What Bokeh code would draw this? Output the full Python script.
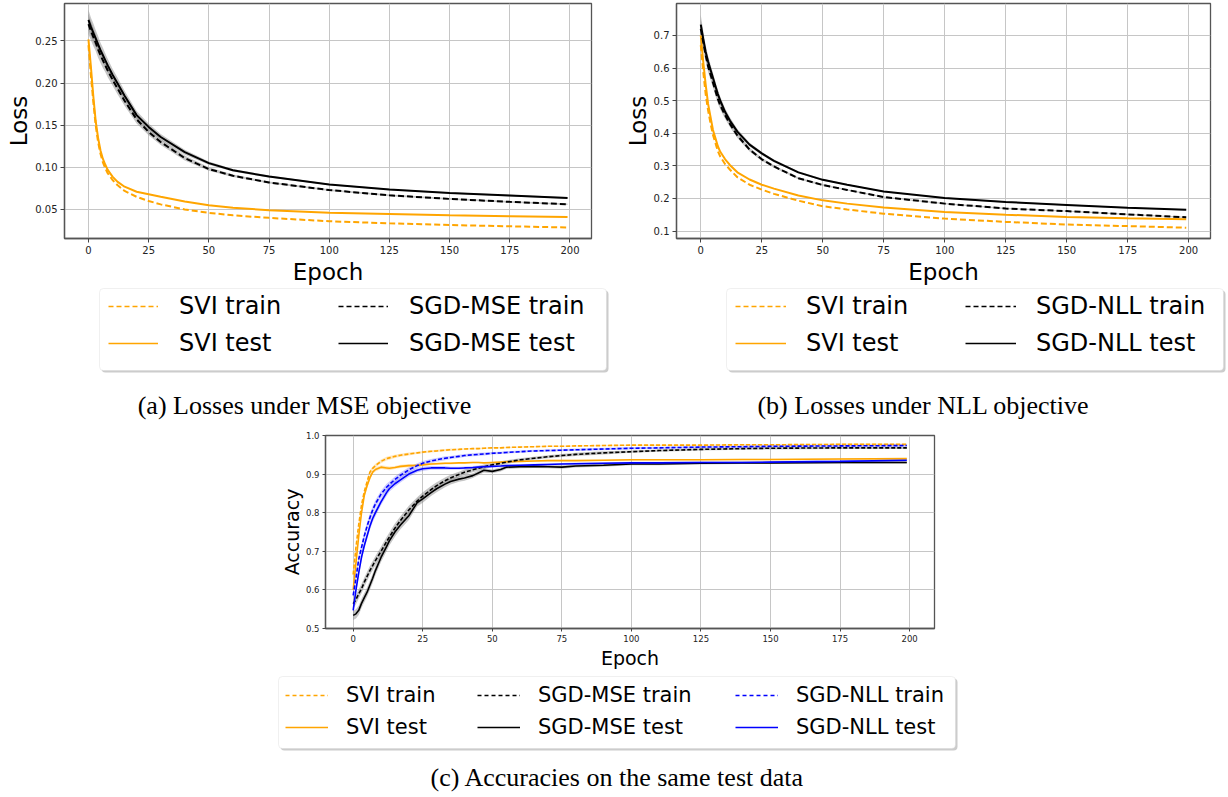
import numpy as np
from bokeh.plotting import figure
from bokeh.models import (Legend, LegendItem, FixedTicker, Range1d, Label,
                          NumeralTickFormatter, BoxAnnotation)
from bokeh.layouts import column, row
from bokeh.embed import file_html
from bokeh.resources import INLINE

# ---------------- data ----------------
X_TICKS = [0, 25, 50, 75, 100, 125, 150, 175, 200]
Y_TICKS_A = [0.05, 0.10, 0.15, 0.20, 0.25]
Y_TICKS_B = [0.1, 0.2, 0.3, 0.4, 0.5, 0.6, 0.7]
Y_TICKS_C = [0.5, 0.6, 0.7, 0.8, 0.9, 1.0]

EP_AB = [0, 1, 2, 3, 4, 5, 6, 7, 8, 10, 12, 15, 20, 25, 30, 40, 50, 60, 75, 100, 125, 150, 175, 199]

svi_train_a = [0.245, 0.210, 0.178, 0.150, 0.130, 0.116, 0.106, 0.099, 0.093, 0.085, 0.079, 0.072,
               0.065, 0.060, 0.056, 0.050, 0.046, 0.043, 0.040, 0.036, 0.0335, 0.0315, 0.030, 0.0286]
svi_test_a = [0.252, 0.220, 0.185, 0.155, 0.135, 0.120, 0.110, 0.103, 0.097, 0.089, 0.083, 0.077,
              0.071, 0.068, 0.065, 0.0595, 0.055, 0.052, 0.049, 0.046, 0.0445, 0.043, 0.042, 0.041]
mse_train_a = [0.270, 0.262, 0.255, 0.248, 0.240, 0.233, 0.227, 0.221, 0.215, 0.204, 0.194, 0.179,
               0.157, 0.142, 0.130, 0.111, 0.098, 0.090, 0.082, 0.073, 0.0668, 0.0625, 0.059, 0.0562]
mse_test_a = [0.275, 0.267, 0.260, 0.253, 0.246, 0.239, 0.233, 0.227, 0.221, 0.210, 0.200, 0.185,
              0.162, 0.148, 0.136, 0.118, 0.105, 0.0965, 0.089, 0.0796, 0.0737, 0.0695, 0.0665, 0.0637]
mse_spread_a = [0.012, 0.011, 0.011, 0.010, 0.010, 0.009, 0.009, 0.008, 0.008, 0.007, 0.007, 0.006,
                0.005, 0.004, 0.0035, 0.003, 0.002, 0.0015, 0.0012, 0.001, 0.001, 0.001, 0.001, 0.001]

svi_train_b = [0.670, 0.590, 0.520, 0.470, 0.430, 0.395, 0.370, 0.345, 0.328, 0.305, 0.288, 0.265,
               0.242, 0.227, 0.214, 0.193, 0.176, 0.166, 0.153, 0.138, 0.128, 0.120, 0.115, 0.110]
svi_test_b = [0.700, 0.620, 0.550, 0.490, 0.450, 0.410, 0.385, 0.360, 0.343, 0.320, 0.302, 0.280,
              0.258, 0.242, 0.230, 0.209, 0.194, 0.184, 0.172, 0.158, 0.150, 0.143, 0.139, 0.136]
nll_train_b = [0.720, 0.680, 0.640, 0.605, 0.580, 0.555, 0.530, 0.505, 0.485, 0.455, 0.428, 0.393,
               0.350, 0.320, 0.298, 0.262, 0.241, 0.226, 0.204, 0.184, 0.169, 0.161, 0.151, 0.142]
nll_test_b = [0.733, 0.690, 0.650, 0.620, 0.595, 0.570, 0.545, 0.520, 0.500, 0.465, 0.438, 0.405,
              0.365, 0.338, 0.315, 0.280, 0.257, 0.242, 0.221, 0.201, 0.189, 0.180, 0.171, 0.165]
nll_spread_b = [0.030, 0.025, 0.020, 0.018, 0.016, 0.015, 0.014, 0.013, 0.012, 0.011, 0.010, 0.008,
                0.006, 0.005, 0.004, 0.003, 0.003, 0.002, 0.002, 0.002, 0.002, 0.002, 0.002, 0.002]

EP_C = [0, 1, 2, 3, 4, 5, 6, 7, 8, 10, 12, 13, 15, 17, 20, 23, 25, 28, 30, 33, 35, 38, 40, 43, 45,
        47, 50, 53, 55, 60, 65, 70, 75, 80, 90, 100, 110, 125, 140, 150, 175, 199]
svi_train_c = [0.64, 0.71, 0.77, 0.82, 0.855, 0.88, 0.905, 0.915, 0.922, 0.933, 0.940, 0.942, 0.946,
               0.949, 0.952, 0.955, 0.957, 0.959, 0.960, 0.962, 0.963, 0.964, 0.965, 0.966, 0.966,
               0.967, 0.968, 0.968, 0.969, 0.970, 0.971, 0.972, 0.972, 0.973, 0.974, 0.975, 0.975,
               0.975, 0.976, 0.976, 0.977, 0.977]
svi_test_c = [0.60, 0.67, 0.74, 0.80, 0.845, 0.87, 0.89, 0.905, 0.912, 0.918, 0.916, 0.915, 0.917,
              0.920, 0.922, 0.923, 0.924, 0.926, 0.927, 0.928, 0.928, 0.929, 0.929, 0.930, 0.930,
              0.929, 0.930, 0.931, 0.932, 0.933, 0.934, 0.935, 0.935, 0.935, 0.936, 0.937, 0.937,
              0.937, 0.938, 0.938, 0.939, 0.940]
mse_train_c = [0.564, 0.575, 0.59, 0.603, 0.62, 0.635, 0.65, 0.663, 0.676, 0.70, 0.725, 0.737, 0.76,
               0.78, 0.807, 0.830, 0.843, 0.860, 0.870, 0.883, 0.890, 0.899, 0.905, 0.911, 0.915,
               0.919, 0.924, 0.928, 0.931, 0.937, 0.941, 0.945, 0.948, 0.951, 0.955, 0.958, 0.961,
               0.964, 0.966, 0.967, 0.968, 0.968]
mse_test_c = [0.534, 0.538, 0.547, 0.565, 0.58, 0.594, 0.612, 0.63, 0.65, 0.684, 0.712, 0.727, 0.750,
              0.768, 0.792, 0.826, 0.836, 0.852, 0.862, 0.874, 0.881, 0.887, 0.890, 0.896, 0.903,
              0.910, 0.907, 0.912, 0.918, 0.919, 0.920, 0.919, 0.918, 0.921, 0.923, 0.926, 0.926,
              0.928, 0.929, 0.929, 0.930, 0.930]
nll_train_c = [0.586, 0.63, 0.68, 0.71, 0.74, 0.765, 0.787, 0.807, 0.823, 0.848, 0.866, 0.873, 0.886,
               0.897, 0.911, 0.922, 0.928, 0.934, 0.937, 0.941, 0.943, 0.946, 0.948, 0.950, 0.951,
               0.952, 0.954, 0.955, 0.956, 0.958, 0.960, 0.961, 0.962, 0.963, 0.965, 0.967, 0.968,
               0.970, 0.971, 0.972, 0.973, 0.974]
nll_test_c = [0.547, 0.60, 0.645, 0.685, 0.715, 0.74, 0.765, 0.785, 0.80, 0.828, 0.852, 0.862, 0.875,
              0.885, 0.900, 0.910, 0.914, 0.916, 0.916, 0.916, 0.915, 0.915, 0.916, 0.917, 0.918,
              0.919, 0.920, 0.921, 0.922, 0.923, 0.924, 0.925, 0.926, 0.927, 0.928, 0.929, 0.929,
              0.930, 0.930, 0.931, 0.933, 0.936]
mse_spread_c = [0.012, 0.012, 0.012, 0.012, 0.012, 0.012, 0.012, 0.012, 0.012, 0.012, 0.012, 0.012,
                0.012, 0.011, 0.011, 0.010, 0.010, 0.009, 0.009, 0.008, 0.008, 0.007, 0.007, 0.006,
                0.006, 0.006, 0.005, 0.005, 0.005, 0.004, 0.004, 0.004, 0.004, 0.004, 0.004, 0.003,
                0.003, 0.003, 0.003, 0.003, 0.003, 0.003]
nll_spread_c = [0.010, 0.010, 0.010, 0.010, 0.010, 0.010, 0.010, 0.010, 0.010, 0.009, 0.009, 0.008,
                0.008, 0.007, 0.007, 0.006, 0.006, 0.005, 0.005, 0.005, 0.004, 0.004, 0.004, 0.004,
                0.004, 0.004, 0.003, 0.003, 0.003, 0.003, 0.003, 0.003, 0.003, 0.003, 0.003, 0.003,
                0.003, 0.003, 0.003, 0.003, 0.003, 0.003]
svi_spread_c = [0.008, 0.008, 0.008, 0.007, 0.006, 0.006, 0.005, 0.005, 0.005, 0.005, 0.005, 0.005,
                0.004, 0.004, 0.004, 0.003, 0.003, 0.003, 0.003, 0.003, 0.003, 0.002, 0.002, 0.002,
                0.002, 0.002, 0.002, 0.002, 0.002, 0.002, 0.002, 0.002, 0.002, 0.002, 0.002, 0.002,
                0.002, 0.002, 0.002, 0.002, 0.002, 0.002]

LEG_A = [["SVI train", "SVI test"], ["SGD-MSE train", "SGD-MSE test"]]
LEG_B = [["SVI train", "SVI test"], ["SGD-NLL train", "SGD-NLL test"]]
LEG_C = [["SVI train", "SVI test"], ["SGD-MSE train", "SGD-MSE test"],
         ["SGD-NLL train", "SGD-NLL test"]]
CAP_A = "(a) Losses under MSE objective"
CAP_B = "(b) Losses under NLL objective"
CAP_C = "(c) Accuracies on the same test data"

ORANGE = "#FFA500"
BLACK = "#000000"
BLUE = "#0000FF"
SANS = "DejaVu Sans"
SERIF = "Liberation Serif"
XLIM = (-9.95, 208.95)


def make_fig(width, height, ylim, yticks, yfmt, border, tick_size, label_size, ylabel, tick_out):
    left, right, top, bottom = border
    p = figure(width=width, height=height, x_range=Range1d(*XLIM), y_range=Range1d(*ylim),
               output_backend="svg", toolbar_location=None,
               min_border_left=left, min_border_right=right,
               min_border_top=top, min_border_bottom=bottom)
    p.background_fill_color = "white"
    p.border_fill_color = "white"
    p.outline_line_color = "#555555"
    p.outline_line_width = 1.3
    p.xaxis.ticker = FixedTicker(ticks=X_TICKS)
    p.yaxis.ticker = FixedTicker(ticks=yticks)
    p.yaxis.formatter = NumeralTickFormatter(format=yfmt)
    for ax in (p.xaxis, p.yaxis):
        ax.axis_line_color = "#555555"
        ax.axis_line_width = 1.3
        ax.major_tick_line_color = "#444444"
        ax.major_tick_out = tick_out
        ax.major_tick_in = 0
        ax.minor_tick_line_color = None
        ax.major_label_text_font = SANS
        ax.major_label_text_font_size = tick_size
        ax.major_label_text_color = "#222222"
        ax.axis_label_text_font = SANS
        ax.axis_label_text_font_style = "normal"
        ax.axis_label_text_font_size = label_size
        ax.axis_label_text_color = "#000000"
        ax.major_label_standoff = 3
        ax.axis_label_standoff = 0
    p.xaxis.axis_label_standoff = 2
    p.xaxis.axis_label = "Epoch"
    p.yaxis.axis_label = ylabel
    p.xgrid.grid_line_color = "#c6c6c6"
    p.ygrid.grid_line_color = "#c6c6c6"
    return p


def band(p, x, mean, spread, color, alpha):
    m = np.array(mean)
    s = np.array(spread)
    p.varea(x=x, y1=m - s, y2=m + s, fill_color=color, fill_alpha=alpha)


def blank(width, height):
    q = figure(width=width, height=height, x_range=Range1d(0, width), y_range=Range1d(0, height),
               output_backend="svg", toolbar_location=None,
               min_border_left=0, min_border_right=0, min_border_top=0, min_border_bottom=0,
               x_axis_type=None, y_axis_type=None)
    q.outline_line_color = None
    q.background_fill_color = "white"
    q.border_fill_color = "white"
    q.xgrid.visible = False
    q.ygrid.visible = False
    return q


def legend_box(q, left, right, bottom, top):
    shadow = BoxAnnotation(left=left + 2, right=right + 2, bottom=bottom - 2, top=top - 2,
                           fill_color="#9a9a9a", fill_alpha=0.5, line_color=None)
    box = BoxAnnotation(left=left, right=right, bottom=bottom, top=top,
                        fill_color="white", fill_alpha=1.0, line_color="#cccccc", line_width=1)
    if "border_radius" in BoxAnnotation.properties():
        shadow.border_radius = 4
        box.border_radius = 4
    q.add_layout(shadow)
    q.add_layout(box)


def column_legend(q, labels, series, styles, x, y, font, glyph_w, standoff, item_h, spacing):
    # legend proxies: one-point lines (draw nothing) that carry each series' style
    items = []
    for lab, (xs, ys), st in zip(labels, series, styles):
        r = q.line(x=xs[:1], y=ys[:1], **st)
        items.append(LegendItem(label=lab, renderers=[r]))
    leg = Legend(items=items, location=(x, y), orientation="vertical",
                 label_text_font=SANS, label_text_font_size=font, label_text_color="#000000",
                 glyph_width=glyph_w, glyph_height=item_h, label_height=item_h,
                 label_standoff=standoff, spacing=spacing, padding=0, margin=0,
                 border_line_color=None, background_fill_alpha=0.0)
    q.add_layout(leg)


def caption(q, text, x, y):
    q.add_layout(Label(x=x, y=y, text=text, text_align="center", text_baseline="middle",
                       text_font=SERIF, text_font_size="26px", text_color="#000000"))


def sty(color, dashed, width):
    d = dict(line_color=color, line_width=width)
    if dashed:
        d["line_dash"] = dashed
    return d


# ---------------- panel (a) ----------------
pa = make_fig(614, 287, (0.0155, 0.2945), Y_TICKS_A, "0.00", (64, 23, 3, 48),
              "10px", "23px", "Loss", 4)
band(pa, EP_AB, mse_train_a, mse_spread_a, "#808080", 0.45)
band(pa, EP_AB, mse_test_a, mse_spread_a, "#808080", 0.45)
pa.line(EP_AB, svi_train_a, **sty(ORANGE, "6 3", 2))
pa.line(EP_AB, svi_test_a, **sty(ORANGE, None, 2))
pa.line(EP_AB, mse_train_a, **sty(BLACK, "6 3", 2))
pa.line(EP_AB, mse_test_a, **sty(BLACK, None, 2))

la = blank(614, 140)
legend_box(la, 99, 606, 57, 139)
column_legend(la, LEG_A[0], [(EP_AB, svi_train_a), (EP_AB, svi_test_a)],
              [sty(ORANGE, "5 3", 1.5), sty(ORANGE, None, 1.5)],
              108, 70, "24px", 50, 21, 28, 9)
column_legend(la, LEG_A[1], [(EP_AB, mse_train_a), (EP_AB, mse_test_a)],
              [sty(BLACK, "5 3", 1.5), sty(BLACK, None, 1.5)],
              338, 70, "24px", 50, 21, 28, 9)
caption(la, CAP_A, 304, 22)

# ---------------- panel (b) ----------------
pb = make_fig(614, 287, (0.077, 0.798), Y_TICKS_B, "0.0", (62, 18, 3, 48),
              "10px", "23px", "Loss", 4)
band(pb, EP_AB, nll_train_b, nll_spread_b, "#808080", 0.45)
band(pb, EP_AB, nll_test_b, nll_spread_b, "#808080", 0.45)
pb.line(EP_AB, svi_train_b, **sty(ORANGE, "6 3", 2))
pb.line(EP_AB, svi_test_b, **sty(ORANGE, None, 2))
pb.line(EP_AB, nll_train_b, **sty(BLACK, "6 3", 2))
pb.line(EP_AB, nll_test_b, **sty(BLACK, None, 2))

lb = blank(614, 140)
legend_box(lb, 112, 609, 57, 139)
column_legend(lb, LEG_B[0], [(EP_AB, svi_train_b), (EP_AB, svi_test_b)],
              [sty(ORANGE, "5 3", 1.5), sty(ORANGE, None, 1.5)],
              121, 70, "24px", 51, 20, 28, 9)
column_legend(lb, LEG_B[1], [(EP_AB, nll_train_b), (EP_AB, nll_test_b)],
              [sty(BLACK, "5 3", 1.5), sty(BLACK, None, 1.5)],
              351, 70, "24px", 51, 20, 28, 9)
caption(lb, CAP_B, 309, 22)

# ---------------- panel (c) ----------------
pc = make_fig(1228, 244, (0.5, 1.0), Y_TICKS_C, "0.0", (325, 294, 8, 40),
              "8.5px", "19px", "Accuracy", 3)
band(pc, EP_C, svi_train_c, svi_spread_c, ORANGE, 0.25)
band(pc, EP_C, svi_test_c, svi_spread_c, ORANGE, 0.25)
band(pc, EP_C, mse_train_c, mse_spread_c, "#808080", 0.45)
band(pc, EP_C, mse_test_c, mse_spread_c, "#808080", 0.45)
band(pc, EP_C, nll_train_c, nll_spread_c, BLUE, 0.2)
band(pc, EP_C, nll_test_c, nll_spread_c, BLUE, 0.2)
pc.line(EP_C, svi_train_c, **sty(ORANGE, "4 2", 1.6))
pc.line(EP_C, svi_test_c, **sty(ORANGE, None, 1.6))
pc.line(EP_C, mse_train_c, **sty(BLACK, "4 2", 1.6))
pc.line(EP_C, mse_test_c, **sty(BLACK, None, 1.6))
pc.line(EP_C, nll_train_c, **sty(BLUE, "4 2", 1.6))
pc.line(EP_C, nll_test_c, **sty(BLUE, None, 1.6))

lc = blank(1228, 124)
legend_box(lc, 278, 955, 47, 119)
column_legend(lc, LEG_C[0], [(EP_C, svi_train_c), (EP_C, svi_test_c)],
              [sty(ORANGE, "4 3", 1.3), sty(ORANGE, None, 1.3)],
              285, 56, "21px", 43, 18, 24, 8)
column_legend(lc, LEG_C[1], [(EP_C, mse_train_c), (EP_C, mse_test_c)],
              [sty(BLACK, "4 3", 1.3), sty(BLACK, None, 1.3)],
              477, 56, "21px", 43, 18, 24, 8)
column_legend(lc, LEG_C[2], [(EP_C, nll_train_c), (EP_C, nll_test_c)],
              [sty(BLUE, "4 3", 1.3), sty(BLUE, None, 1.3)],
              735, 56, "21px", 43, 18, 24, 8)
caption(lc, CAP_C, 617, 18)

layout = column(row(pa, pb), row(la, lb), pc, row(lc))
open("out.html", "w").write(file_html(layout, INLINE))
